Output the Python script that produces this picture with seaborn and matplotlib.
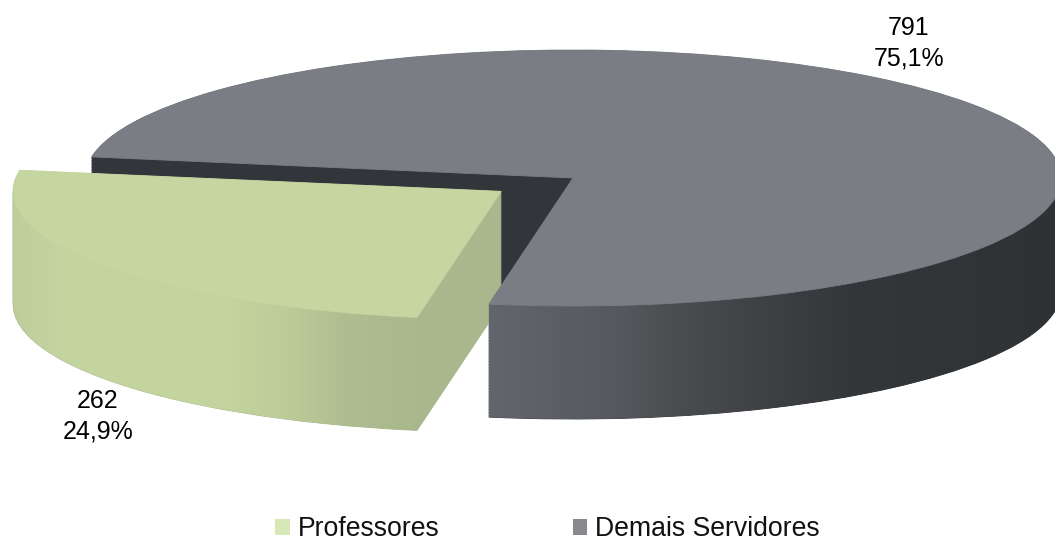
import numpy as np
import seaborn as sns
import matplotlib
matplotlib.use("Agg")
import matplotlib.pyplot as plt
from matplotlib.colors import LinearSegmentedColormap, to_rgb
from matplotlib.patches import PathPatch, Patch
from matplotlib.path import Path

categories = ["Professores", "Demais Servidores"]
values = [262, 791]
percent_labels = ["24,9%", "75,1%"]

W, H = 1055, 543
RX, RY, DEPTH = 488, 128, 113
CX, CY = 573, 178
SQ = RX / RY
START = 170.5
EXPLODE = [88, 0.0]

sns.set_theme(style="white")
plt.rcParams["font.family"] = ["Liberation Sans", "DejaVu Sans"]

fig = plt.figure(figsize=(W / 100, H / 100), dpi=100, facecolor="white")
ax = fig.add_axes([0, 0, 1, 1])


def yd(py):
    return (H - py) * SQ


def draw(offset, colors, z, which):
    wedges, _ = ax.pie(values, startangle=START, explode=EXPLODE, radius=RX,
                       center=(CX, yd(CY + offset)), colors=colors,
                       wedgeprops=dict(linewidth=0.6, edgecolor=colors[which]), frame=False)
    for i, w in enumerate(wedges):
        w.set_visible(i == which)
        w.set_zorder(z)
    return wedges[which]


def gradient_band(wedge, lo, hi, stops, z):
    """Front-facing wall of a wedge, filled by a left-to-right gradient."""
    th = np.radians(np.linspace(max(wedge.theta1, lo), min(wedge.theta2, hi), 200))
    cx, cy = wedge.center
    x = cx + wedge.r * np.cos(th)
    y = cy + wedge.r * np.sin(th)
    drop = DEPTH * SQ
    poly = np.vstack([np.c_[x, y], np.c_[x[::-1], y[::-1] - drop], [[x[0], y[0]]]])
    clip = PathPatch(Path(poly), transform=ax.transData, fc="none", ec="none")
    ax.add_patch(clip)
    lo_x, hi_x = stops[0][0], stops[-1][0]
    cmap = LinearSegmentedColormap.from_list(
        "band", [((p - lo_x) / (hi_x - lo_x), to_rgb(c)) for p, c in stops])
    im = ax.imshow(np.linspace(0, 1, 512)[None, :], cmap=cmap, aspect="auto",
                   extent=(lo_x, hi_x, poly[:, 1].min(), poly[:, 1].max()), zorder=z)
    im.set_clip_path(clip)


GREEN_TOP, GREEN_WALL = "#c6d6a1", "#a8b78c"
GRAY_TOP, GRAY_WALL = "#7a7d84", "#32353a"
offsets = np.arange(DEPTH, 0, -1.5)

for off in offsets:
    draw(off, [GREEN_WALL, GRAY_WALL], 1, 1)
for off in offsets:
    draw(off, [GREEN_WALL, GRAY_WALL], 2, 0)
g_top = draw(0, [GREEN_TOP, GRAY_TOP], 4, 0)
gradient_band(g_top, 180, 360,
              [(0, "#bccb9a"), (60, "#c4d4a0"), (220, "#c5d59f"), (290, "#bccb98"),
               (345, "#afbe91"), (430, "#a8b78c")], 3)
d_top = draw(0, [GREEN_TOP, GRAY_TOP], 7, 1)
gradient_band(d_top, 0, 360,
              [(480, "#63666d"), (620, "#55585c"), (700, "#47494c"), (850, "#34373a"),
               (1065, "#2f3235")], 6)

ax.set_aspect("auto")
ax.set_xlim(0, W)
ax.set_ylim(0, H * SQ)
ax.axis("off")

ax.text(98, yd(416), f"{values[0]}\n{percent_labels[0]}", ha="center", va="center",
        fontsize=18, color="black", linespacing=1.36, zorder=10)
ax.text(909, yd(43), f"{values[1]}\n{percent_labels[1]}", ha="center", va="center",
        fontsize=18, color="black", linespacing=1.36, zorder=10)

handles = [Patch(color="#d7e8b8", lw=0), Patch(color="#87898c", lw=0)]
ax.legend(handles, categories, ncol=2, frameon=False, loc="center left",
          bbox_to_anchor=(275 / W, 1 - 529.5 / H), borderpad=0, borderaxespad=0,
          fontsize=19.2, handlelength=0.55, handleheight=0.55, handletextpad=0.3,
          columnspacing=5.0, labelcolor="#111111")

fig.savefig("out.png", dpi=100, facecolor="white")
